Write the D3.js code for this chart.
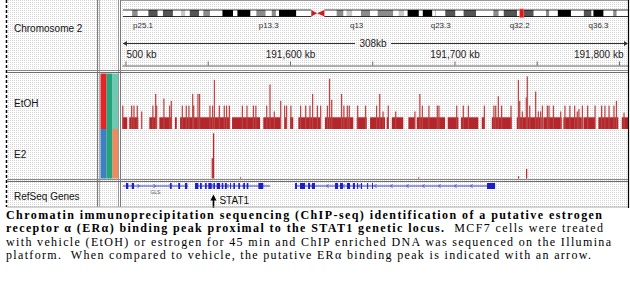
<!DOCTYPE html>
<html><head><meta charset="utf-8">
<script src="https://cdn.jsdelivr.net/npm/d3@7"></script>
<style>
html,body{margin:0;padding:0;background:#fff;}
svg{display:block;}
.sans{font-family:"Liberation Sans",Arial,sans-serif;}
.cap{font-family:"Liberation Serif","Times New Roman",Times,serif;white-space:pre;}
</style></head><body>
<svg id="c" width="630" height="298"></svg>
<script>
// ---------------- DATA ----------------
const regionKb = [191497.9, 191805.5];           // visible window (kb), chr2
const chromLenMb = 243.2;
const bandNames = ["p25.3","p25.2","p25.1","p24.3","p24.2","p24.1","p23.3","p23.2","p23.1","p22.3","p22.2","p22.1","p21","p16.3","p16.2","p16.1","p15","p14","p13.3","p13.2","p13.1","p12","p11.2","p11.1","q11.1","q11.2","q12.1","q12.2","q12.3","q13","q14.1","q14.2","q14.3","q21.1","q21.2","q21.3","q22.1","q22.2","q22.3","q23.1","q23.2","q23.3","q24.1","q24.2","q24.3","q31.1","q31.2","q31.3","q32.1","q32.2","q32.3","q33.1","q33.2","q33.3","q34","q35","q36.1","q36.2","q36.3","q37.1","q37.2","q37.3"];
const bandEndMb = [4.4,7.1,12.2,16.7,19.2,24.0,27.9,30.0,32.1,36.6,38.6,41.8,47.8,52.9,55.0,61.3,64.1,68.6,71.5,73.5,75.0,83.3,90.5,93.3,96.8,102.7,106.0,107.5,110.2,114.4,118.8,122.4,129.9,132.5,135.1,136.8,142.2,144.1,148.7,149.9,150.5,154.9,159.8,163.7,169.7,178.0,180.6,183.0,189.4,191.9,197.4,203.3,204.9,209.0,215.3,221.5,225.2,226.1,231.0,235.6,237.3,243.2];
const bandStain = ["gneg","gpos50","gneg","gpos75","gneg","gpos75","gneg","gpos25","gneg","gpos75","gneg","gpos50","gneg","gpos100","gneg","gpos100","gneg","gpos50","gneg","gpos50","gneg","gpos100","gneg","acen","acen","gneg","gpos50","gneg","gpos25","gneg","gpos50","gneg","gpos50","gneg","gpos25","gneg","gpos100","gneg","gpos100","gneg","gpos25","gneg","gpos75","gneg","gpos75","gneg","gpos50","gneg","gpos75","gneg","gpos75","gneg","gpos50","gneg","gpos100","gneg","gpos75","gneg","gpos100","gneg","gpos50","gneg"];
const bandLabels = ["p25.1","p13.3","q13","q23.3","q32.2","q36.3"];

const rulerTicks = [191500,191550,191600,191650,191700,191750,191800];
const rulerLabels = ["500 kb","","191,600 kb","","191,700 kb","","191,800 kb"];

const trackNames = ["Chromosome 2","EtOH","E2","RefSeq Genes"];
const attrColorsEtOH = ["#e5232b","#26a37a","#6dc9b1"];
const attrColorsE2 = ["#3f7fc4","#26a37a","#f08a5d"];

// EtOH coverage: runs at 1 read [startKb, endKb]
const etohRuns = [[191498.3,191501.1],[191502.3,191507.8],[191514.5,191519.0],[191520.6,191528.1],[191530.1,191531.2],
 [191533.2,191563.6],[191564.8,191581.8],[191583.8,191594.0],[191597.0,191598.0],[191600.0,191602.0],
 [191605.1,191618.3],[191621.3,191638.5],[191640.6,191646.7],[191648.7,191657.8],[191658.8,191660.2],
 [191661.9,191668.9],[191672.0,191676.0],[191677.1,191694.3],[191695.9,191702.4],[191704.0,191714.5],
 [191716.6,191718.6],[191722.7,191734.8],[191737.9,191753.1],[191754.0,191765.2],[191766.2,191777.4],
 [191778.4,191785.5],[191787.5,191799.6],[191801.7,191805.5]];
// EtOH coverage: taller bins [posKb, reads]
const etohPeaks = [[191498.0,2],[191503.4,2],[191504.8,2],[191506.8,2],[191509.5,1.5],[191516.3,2],[191518.0,3],[191518.6,2],
 [191523.0,2.6],[191526.5,2],[191527.5,2.4],[191534.2,2],[191536.6,2],[191538.2,2],[191540.5,3],[191541.1,2],
 [191543.7,3],[191544.7,3],[191551.0,2],[191552.6,2],[191553.7,4.2],[191556.7,2],[191559.7,2],[191561.1,2],
 [191562.8,2],[191570.7,2],[191573.5,2],[191577.4,2],[191578.9,2],[191585.5,2],[191587.5,3.8],[191590.1,1.5],
 [191594.0,2.4],[191596.4,2],[191597.6,2],[191600.2,2],[191606.1,2],[191609.2,2],[191611.8,2],[191613.4,3],
 [191616.3,2],[191618.3,2],[191622.4,2],[191623.7,4.3],[191625.0,2.5],[191631.0,3],[191632.4,2],[191634.5,2],
 [191635.7,2],[191640.8,2],[191645.6,2],[191652.3,2],[191654.2,3],[191656.2,1.5],[191659.4,2],[191663.9,1.5],
 [191675.6,1.5],[191678.6,3],[191680.1,2],[191684.1,2],[191689.2,2],[191690.2,2],[191701.0,2],[191705.0,2],
 [191708.1,2],[191717.8,2],[191723.6,2],[191724.7,2],[191726.3,2.8],[191728.3,2],[191734.0,2],[191738.5,4.2],
 [191739.3,2.4],[191740.9,1.5],[191743.3,2.7],[191743.9,4.5],[191745.4,2],[191749.0,3.2],[191750.6,1.5],
 [191752.0,1.5],[191753.1,2],[191756.1,2],[191757.1,2],[191759.8,2],[191764.2,1.5],[191766.8,2],[191769.8,2],
 [191772.7,2],[191774.3,1.5],[191775.3,1.7],[191777.4,2],[191780.6,2],[191785.1,2],[191789.1,2],[191791.1,2],
 [191793.6,2],[191796.6,2],[191798.1,2.4],[191802.7,1.4]];
// E2 coverage [posKb, reads]
const e2Peaks = [[191552.4,3.6],[191553.2,8.0],[191569.6,0.2],[191677.9,0.2],[191738.6,0.4],[191743.5,1.7]];
const binKb = 0.75;

// RefSeq genes
const geneNames = ["GLS","STAT1","STAT4"];
const geneStrand = ["+","-","-"];
const geneStart = [191498.5,191542.3,191603.1];
const geneEnd = [191538.0,191587.9,191724.7];
const geneExons = [
 [[191500.3,191501.7],[191503.8,191505.2],[191527.1,191528.1],[191532.1,191533.2],[191536.2,191537.6]],
 [[191542.3,191544.3],[191545.3,191546.4],[191548.4,191549.4],[191550.4,191552.4],[191553.4,191554.4],[191555.5,191557.5],
  [191558.5,191559.5],[191560.5,191561.6],[191563.6,191564.2],[191565.6,191566.6],[191568.6,191569.6],[191571.6,191572.7],
  [191573.7,191574.7],[191580.8,191583.8]],
 [[191603.1,191604.3],[191606.1,191609.2],[191611.0,191612.2],[191613.4,191615.2],[191627.4,191629.2],[191630.4,191632.2],
  [191634.7,191636.5],[191638.3,191639.5],[191640.8,191641.4],[191643.2,191643.8],[191646.9,191647.5],[191649.9,191650.5],
  [191719.8,191724.7]]
];
const arrowLabel = "STAT1";

const captionLines = [
 [["Chromatin immunoprecipitation sequencing (ChIP-seq) identification of a putative estrogen", true]],
 [["receptor \u03b1 (ER\u03b1) binding peak proximal to the STAT1 genetic locus.", true], ["  MCF7 cells were treated", false]],
 [["with vehicle (EtOH) or estrogen for 45 min and ChIP enriched DNA was sequenced on the Illumina", false]],
 [["platform.  When compared to vehicle, the putative ER\u03b1 binding peak is indicated with an arrow.", false]]
];

// ---------------- DRAW ----------------
const svg = d3.select("#c");
const defs = svg.append("defs");
const pat = defs.append("pattern").attr("id","dots").attr("width",2).attr("height",2).attr("patternUnits","userSpaceOnUse");
pat.append("rect").attr("width",2).attr("height",2).attr("fill","#fff");
pat.append("rect").attr("width",1).attr("height",1).attr("fill","#d6d6d6");
defs.append("clipPath").attr("id","dataClip").append("rect").attr("x",121).attr("y",0).attr("width",507).attr("height",208);

svg.append("rect").attr("width",630).attr("height",298).attr("fill","#fff");
svg.append("rect").attr("x",7).attr("y",0).attr("width",621).attr("height",207).attr("fill","url(#dots)");

// attribute cells
const rowEt = [73.5,129], rowE2 = [129,178.5];
const attrX = d3.scaleBand().domain([0,1,2]).range([100.5,118.5]);
[[attrColorsEtOH,rowEt],[attrColorsE2,rowE2]].forEach(([cols,row])=>{
  svg.append("g").selectAll("rect").data(cols).join("rect")
    .attr("x",(d,i)=>attrX(i)).attr("y",row[0]).attr("width",attrX.bandwidth()).attr("height",row[1]-row[0]).attr("fill",d=>d);
});

// track names
const nameY = [32,107,158,199.5];
svg.append("g").attr("class","sans").selectAll("text").data(trackNames).join("text")
  .attr("x",14).attr("y",(d,i)=>nameY[i]).attr("font-size",10).attr("fill","#111").text(d=>d);

// scales
const x = d3.scaleLinear().domain(regionKb).range([122,628]);
const ideoX = d3.scaleLinear().domain([0,chromLenMb]).range([123,629]);
const etY = d3.scaleLinear().domain([0,4]).range([129,82.2]);
const e2Y = d3.scaleLinear().domain([0,8]).range([178.5,133.3]);

// ideogram
const bands = bandNames.map((n,i)=>({name:n,start:i?bandEndMb[i-1]:0,end:bandEndMb[i],stain:bandStain[i]}));
const stainCol = {gneg:"#ffffff",gpos25:"#c8c8c8",gpos50:"#8c8c8c",gpos75:"#555555",gpos100:"#000000"};
const gI = svg.append("g");
const iy0=10, iy1=16.5;
gI.selectAll("rect").data(bands.filter(b=>b.stain!=="acen")).join("rect")
  .attr("x",d=>ideoX(d.start)).attr("y",iy0).attr("width",d=>ideoX(d.end)-ideoX(d.start)).attr("height",iy1-iy0)
  .attr("fill",d=>stainCol[d.stain]);
const acen = bands.filter(b=>b.stain==="acen");
const pB = acen[0], qB = acen[1];
gI.append("path").attr("fill","#c81e1e")
  .attr("d",`M${ideoX(pB.start)},${iy0}L${ideoX(pB.end)},${(iy0+iy1)/2}L${ideoX(pB.start)},${iy1}Z M${ideoX(qB.end)},${iy0}L${ideoX(qB.start)},${(iy0+iy1)/2}L${ideoX(qB.end)},${iy1}Z`);
gI.append("path").attr("fill","none").attr("stroke","#000").attr("stroke-width",0.8)
  .attr("d",`M${ideoX(0)},${iy0}H${ideoX(pB.start)}M${ideoX(qB.end)},${iy0}H${ideoX(chromLenMb)}M${ideoX(0)},${iy1}H${ideoX(pB.start)}M${ideoX(qB.end)},${iy1}H${ideoX(chromLenMb)}`);
const midMb = (regionKb[0]+regionKb[1])/2000;
gI.append("rect").attr("x",ideoX(midMb)-2).attr("y",iy0-1).attr("width",4).attr("height",iy1-iy0+2)
  .attr("fill","#ee1111").attr("stroke","#f08080").attr("stroke-width",0.6);
gI.append("g").attr("class","sans").selectAll("text").data(bands.filter(b=>bandLabels.includes(b.name))).join("text")
  .attr("x",d=>ideoX((d.start+d.end)/2)).attr("y",28).attr("text-anchor","middle")
  .attr("font-size",8).attr("fill","#333").text(d=>d.name);

// span line
const spanKb = Math.round(regionKb[1]-regionKb[0]);
const midX = (x.range()[0]+x.range()[1])/2 - 2;
const gS = svg.append("g").attr("stroke","#333").attr("stroke-width",1);
gS.append("line").attr("x1",123).attr("x2",midX-18).attr("y1",43.5).attr("y2",43.5);
gS.append("line").attr("x1",midX+18).attr("x2",627).attr("y1",43.5).attr("y2",43.5);
svg.append("path").attr("fill","#333").attr("d","M123,43.5l4,-2.5v5Z M628,43.5l-4,-2.5v5Z");
svg.append("text").attr("class","sans").attr("x",midX).attr("y",47).attr("text-anchor","middle")
  .attr("font-size",10).attr("fill","#222").text(spanKb+"kb");

// ruler axis
const axis = d3.axisTop(x).tickValues(rulerTicks).tickSize(4).tickSizeOuter(0).tickPadding(4)
  .tickFormat((d,i)=>rulerLabels[i]);
const gA = svg.append("g").attr("transform","translate(0,65.5)").call(axis)
  .attr("font-family",null).attr("class","sans").attr("font-size",10);
gA.select(".domain").attr("stroke","#666");
gA.selectAll(".tick line").attr("stroke","#666");
gA.selectAll(".tick text").attr("fill","#222");
gA.selectAll(".tick text").filter((d,i)=>i===0).attr("text-anchor","start").attr("dx",0.5);
gA.selectAll(".tick text").filter((d,i)=>i===rulerTicks.length-1).attr("text-anchor","end").attr("dx",4);

// data tracks
const gD = svg.append("g").attr("clip-path","url(#dataClip)");
gD.append("g").selectAll("rect").data(etohRuns).join("rect")
  .attr("x",d=>x(d[0])).attr("width",d=>Math.max(1,x(d[1])-x(d[0]))).attr("y",etY(1)).attr("height",etY(0)-etY(1))
  .attr("fill","#b3262b");
gD.append("g").selectAll("rect").data(etohPeaks).join("rect")
  .attr("x",d=>x(d[0])).attr("width",d=>Math.max(1,x(d[0]+binKb)-x(d[0]))).attr("y",d=>etY(d[1])).attr("height",d=>etY(0)-etY(d[1]))
  .attr("fill","#bb4444");
gD.append("g").selectAll("rect").data(e2Peaks).join("rect")
  .attr("x",d=>x(d[0])).attr("width",d=>Math.max(1,x(d[0]+binKb)-x(d[0]))).attr("y",d=>e2Y(d[1])).attr("height",d=>e2Y(0)-e2Y(d[1]))
  .attr("fill","#b8262b");

// genes
const gy = 186;
const genes = geneNames.map((n,i)=>({name:n,strand:geneStrand[i],start:geneStart[i],end:geneEnd[i],exons:geneExons[i]}));
const gG = gD.append("g");
genes.forEach(g=>{
  gG.append("line").attr("x1",x(g.start)).attr("x2",x(g.end)).attr("y1",gy).attr("y2",gy).attr("stroke","#3a3ac8").attr("stroke-width",1);
  const n = Math.floor((x(g.end)-x(g.start))/16);
  const marks = d3.range(1,n).map(k=>x(g.start)+k*16);
  gG.append("path").attr("fill","none").attr("stroke","#3a3ac8").attr("stroke-width",0.8)
    .attr("d",marks.map(m=>g.strand==="+"?`M${m-1.5},${gy-2}L${m+0.5},${gy}L${m-1.5},${gy+2}`:`M${m+1.5},${gy-2}L${m-0.5},${gy}L${m+1.5},${gy+2}`).join(""));
  gG.selectAll(null).data(g.exons).join("rect")
    .attr("x",d=>x(d[0])).attr("width",d=>Math.max(1,x(d[1])-x(d[0]))).attr("y",gy-3).attr("height",6).attr("fill","#1f1fc0");
});
gG.append("text").attr("class","sans").attr("x",x((genes[0].start+genes[0].end)/2)).attr("y",194).attr("text-anchor","middle")
  .attr("font-size",5).attr("fill","#555").text(genes[0].name);

// arrow to the E2 peak
const peak = e2Peaks.reduce((a,b)=>b[1]>a[1]?b:a);
const ax = x(peak[0]) + 0.5;
svg.append("line").attr("x1",ax).attr("x2",ax).attr("y1",199).attr("y2",208).attr("stroke","#000").attr("stroke-width",1.6);
svg.append("path").attr("fill","#000").attr("d",`M${ax},194.5L${ax-3},200.5H${ax+3}Z`);
svg.append("text").attr("class","sans").attr("x",ax+6).attr("y",203.5).attr("font-size",10).attr("fill","#111").text(arrowLabel);

// frame lines
const gF = svg.append("g");
const vl = (xx,y0,y1,c,w=1,dash=null)=>gF.append("line").attr("x1",xx).attr("x2",xx).attr("y1",y0).attr("y2",y1).attr("stroke",c).attr("stroke-width",w).attr("stroke-dasharray",dash);
const hl = (yy,x0,x1,c,w=1)=>gF.append("line").attr("x1",x0).attr("x2",x1).attr("y1",yy).attr("y2",yy).attr("stroke",c).attr("stroke-width",w);
vl(6.5,0,207,"#000",1.5,"3,2");
vl(97.5,0,207,"#7a7a7a"); vl(99.5,0,207,"#b0b0b0");
vl(118.5,0,207,"#9a9a9a"); vl(120.5,0,207,"#7a7a7a");
vl(628.5,0,208,"#000",1.2);
hl(0.5,121,628,"#999");
hl(70.5,7,628,"#8a8a8a"); hl(72.5,7,628,"#6e6e6e");
hl(179.5,7,628,"#8a8a8a"); hl(181.5,7,628,"#6e6e6e");
hl(207,7,628,"#aaa");

// caption: 12px serif, spacing stretched to the widths
const capY = [219,232.3,245.6,258.9];
const capW = [596,597,605,585];
captionLines.forEach((parts,i)=>{
  const t = svg.append("text").attr("class","cap").attr("x",6).attr("y",capY[i]).attr("font-size",12).attr("fill","#000");
  parts.forEach(p=>t.append("tspan").attr("font-weight",p[1]?"bold":"normal").text(p[0]));
  t.attr("textLength",capW[i]).attr("lengthAdjust","spacing");
});
</script>
</body></html>
